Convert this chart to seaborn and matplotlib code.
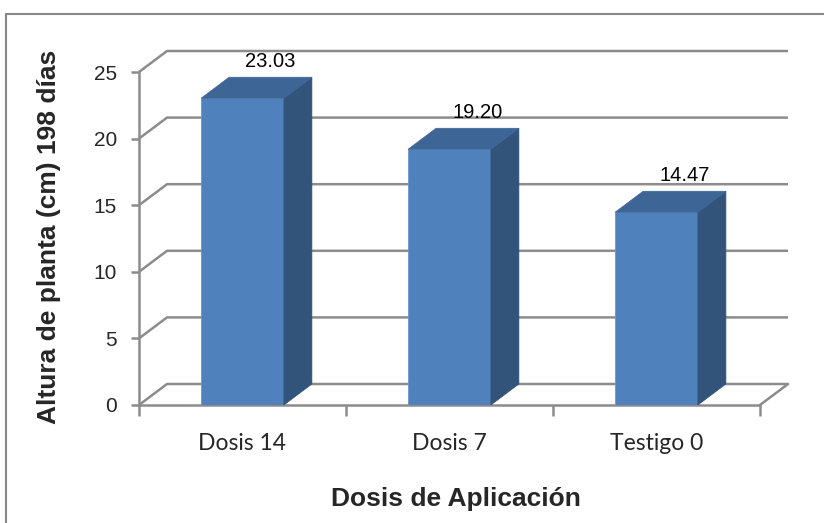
import matplotlib
matplotlib.use("Agg")
import matplotlib.pyplot as plt
from matplotlib.patches import Polygon
from matplotlib.lines import Line2D
import seaborn as sns

categorias = ["Dosis 14", "Dosis 7", "Testigo 0"]
altura = [23.03, 19.20, 14.47]
etiquetas = ["23.03", "19.20", "14.47"]
y_ticks = [0, 5, 10, 15, 20, 25]

FRONT = "#4F81BD"
SIDE = "#32537A"
TOP = "#3D6596"
GRID = "#8C8C8C"

sns.set_theme(style="white")
plt.rcParams["font.family"] = ["Liberation Sans", "DejaVu Sans"]

W, H = 824, 523
fig = plt.figure(figsize=(W / 100, H / 100), dpi=100)
# front plane of the 3D box, in pixels: x 139..760, y 405 (0) .. 72 (25)
ax = fig.add_axes([139 / W, (H - 405) / H, 621 / W, 333 / H])
ax.set_xlim(-0.5, 2.5)
ax.set_ylim(0, 25)

# depth offset in data units (28 px right, 21 px up)
dx = 28 / 207.0
dy = 21 / (333 / 25.0)

# walls: diagonals from the front axis and horizontal gridlines on the back
for v in y_ticks:
    ax.plot([-0.5, -0.5 + dx, 2.5 + dx], [v, v + dy, v + dy], color=GRID,
            lw=1.8, clip_on=False, zorder=1, solid_capstyle="butt")
# floor right edge, front edge and vertical axis
ax.plot([2.5, 2.5 + dx], [0, dy], color=GRID, lw=1.8, clip_on=False, zorder=1)
ax.plot([-0.5, 2.5], [0, 0], color=GRID, lw=1.8, clip_on=False, zorder=1)
ax.plot([-0.5, -0.5], [0, 25], color=GRID, lw=1.8, clip_on=False, zorder=1)

sns.barplot(x=categorias, y=altura, color=FRONT, saturation=1, width=0.4,
            ax=ax, zorder=3)

for p, lab in zip(ax.patches, etiquetas):
    x0 = p.get_x()
    x1 = x0 + p.get_width()
    h = p.get_height()
    p.set_edgecolor("#6F97C9")
    p.set_linewidth(0.6)
    side = Polygon([(x1, 0), (x1 + dx, dy), (x1 + dx, h + dy), (x1, h)],
                   closed=True, facecolor=SIDE, edgecolor=SIDE, lw=0.5,
                   clip_on=False, zorder=3)
    top = Polygon([(x0, h), (x0 + dx, h + dy), (x1 + dx, h + dy), (x1, h)],
                  closed=True, facecolor=TOP, edgecolor=TOP, lw=0.5,
                  clip_on=False, zorder=3)
    ax.add_patch(side)
    ax.add_patch(top)
    ax.text((x0 + x1) / 2 + dx, h + dy + 1.2, lab, ha="center", va="center",
            fontsize=14.5, color="black", zorder=5,
            family=["Liberation Sans Narrow", "Liberation Sans"])

for s in ax.spines.values():
    s.set_visible(False)
ax.set_facecolor("none")
ax.set_yticks(y_ticks)
ax.set_yticklabels([str(v) for v in y_ticks], fontsize=15)
ax.set_xticks(range(len(categorias)))
ax.set_xticklabels(categorias, fontsize=16.5, family=["Lato", "DejaVu Sans"])
ax.set_xticks([-0.5, 0.5, 1.5, 2.5], minor=True)
ax.tick_params(axis="y", which="major", length=6, width=1.8, color=GRID,
               pad=10, left=True)
ax.tick_params(axis="x", which="major", length=0, pad=20)
ax.tick_params(axis="x", which="minor", length=8, width=1.8, color=GRID,
               bottom=True)
ax.set_xlabel("")
ax.set_ylabel("")

fig.text(49 / W, 1 - 237 / H, "Altura de planta (cm) 198 días", rotation=90,
         ha="center", va="center", fontsize=19, fontweight="bold")
fig.text(456 / W, 1 - 499 / H, "Dosis de Aplicación", ha="center",
         va="center", fontsize=19, fontweight="bold")

# outer chart border (top and left visible)
fig.add_artist(Line2D([6 / W, 6 / W], [0, 1 - 14 / H], color="#878787",
                      lw=1.5, transform=fig.transFigure))
fig.add_artist(Line2D([6 / W, 1], [1 - 14 / H, 1 - 14 / H], color="#878787",
                      lw=1.5, transform=fig.transFigure))

fig.savefig("out.png", dpi=100)
